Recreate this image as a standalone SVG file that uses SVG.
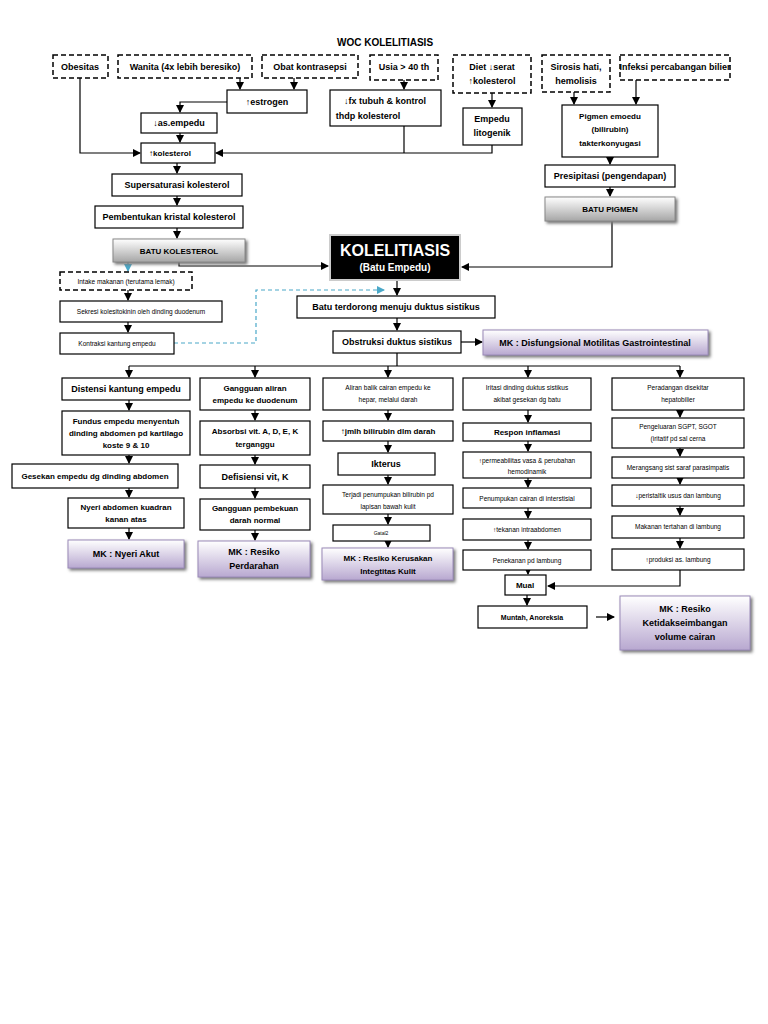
<svg xmlns="http://www.w3.org/2000/svg" width="768" height="1024" viewBox="0 0 768 1024">
<defs>
<marker id="ah" markerWidth="8" markerHeight="8" refX="7" refY="4" orient="auto" markerUnits="userSpaceOnUse"><path d="M0,0 L8,4 L0,8 z" fill="#000"/></marker>
<marker id="ab" markerWidth="8" markerHeight="8" refX="7" refY="4" orient="auto" markerUnits="userSpaceOnUse"><path d="M0,0 L8,4 L0,8 z" fill="#4aa8c8"/></marker>
<linearGradient id="gr" x1="0" y1="0" x2="0" y2="1"><stop offset="0" stop-color="#ffffff"/><stop offset="1" stop-color="#a6a6a6"/></linearGradient>
<linearGradient id="pu" x1="0" y1="0" x2="0" y2="1"><stop offset="0" stop-color="#ffffff"/><stop offset="1" stop-color="#b8a8d0"/></linearGradient>
<filter id="sh" x="-10%" y="-10%" width="130%" height="140%"><feDropShadow dx="2" dy="2" stdDeviation="1.5" flood-color="#777"/></filter>
</defs>
<style>
text{font-family:"Liberation Sans",Arial,sans-serif;font-weight:bold;fill:#000;text-anchor:middle}
.b{fill:#fff;stroke:#000;stroke-width:1.2}
.d{fill:#fff;stroke:#000;stroke-width:1.5;stroke-dasharray:5,3}
.g{fill:url(#gr);stroke:#888;stroke-width:1;filter:url(#sh)}
.p{fill:url(#pu);stroke:#9a8ab8;stroke-width:1;filter:url(#sh)}
.s{font-size:8px}
.m{font-size:9px}
.l{font-size:10px}
.c line,.c polyline{stroke:#000;stroke-width:1.2;fill:none;marker-end:url(#ah)}
.c .n{marker-end:none}
.c .bl{stroke:#4aa8c8;stroke-dasharray:4,3;marker-end:url(#ab)}
</style>
<rect width="768" height="1024" fill="#fff"/>
<text x="385" y="46" class="l">WOC KOLELITIASIS</text>

<g class="c">
<line x1="240" y1="78" x2="240" y2="89"/>
<line x1="294" y1="78" x2="294" y2="89"/>
<line x1="404" y1="80" x2="404" y2="89"/>
<line x1="492" y1="93" x2="492" y2="107"/>
<line x1="574" y1="92" x2="574" y2="104"/>
<line x1="636" y1="80" x2="636" y2="104"/>
<polyline points="227,102 180,102 180,112"/>
<line x1="180" y1="133" x2="180" y2="142"/>
<polyline points="80,78 80,153 140,153"/>
<polyline class="n" points="404,126 404,153"/>
<polyline points="492,145 492,153 216,153"/>
<line x1="177" y1="163" x2="177" y2="173"/>
<line x1="177" y1="196" x2="177" y2="205"/>
<line x1="177" y1="228" x2="177" y2="238"/>
<line x1="610" y1="157" x2="610" y2="164"/>
<line x1="610" y1="187" x2="610" y2="196"/>
<polyline points="179,262 179,266 328,266"/>
<polyline points="612,221 612,267 462,267"/>
<line class="bl" x1="128" y1="262" x2="128" y2="271"/>
<line x1="128" y1="290" x2="128" y2="300"/>
<line x1="128" y1="322" x2="128" y2="332"/>
<polyline class="bl" points="174,343 256,343 256,290 384,290"/>
<line x1="397" y1="280" x2="397" y2="295"/>
<line x1="397" y1="318" x2="397" y2="330"/>
<line x1="461" y1="342" x2="482" y2="342"/>
<polyline class="n" points="397,353 397,366"/>
<polyline class="n" points="129,366 680,366"/>
<line x1="129" y1="366" x2="129" y2="377"/>
<line x1="255" y1="366" x2="255" y2="377"/>
<line x1="388" y1="366" x2="388" y2="377"/>
<line x1="528" y1="366" x2="528" y2="377"/>
<line x1="680" y1="366" x2="680" y2="377"/>
<line x1="129" y1="400" x2="129" y2="410"/>
<line x1="129" y1="455" x2="129" y2="463"/>
<line x1="129" y1="488" x2="129" y2="497"/>
<line x1="129" y1="528" x2="129" y2="539"/>
<line x1="255" y1="410" x2="255" y2="420"/>
<line x1="255" y1="455" x2="255" y2="464"/>
<line x1="255" y1="488" x2="255" y2="498"/>
<line x1="255" y1="530" x2="255" y2="540"/>
<line x1="388" y1="410" x2="388" y2="420"/>
<line x1="388" y1="441" x2="388" y2="452"/>
<line x1="388" y1="475" x2="388" y2="484"/>
<line x1="388" y1="514" x2="388" y2="524"/>
<line x1="388" y1="541" x2="388" y2="547"/>
<line x1="528" y1="410" x2="528" y2="422"/>
<line x1="528" y1="441" x2="528" y2="451"/>
<line x1="528" y1="478" x2="528" y2="487"/>
<line x1="528" y1="508" x2="528" y2="518"/>
<line x1="528" y1="540" x2="528" y2="549"/>
<line x1="528" y1="570" x2="528" y2="574"/>
<line x1="527" y1="595" x2="527" y2="605"/>
<line x1="680" y1="410" x2="680" y2="417"/>
<line x1="680" y1="448" x2="680" y2="456"/>
<line x1="680" y1="478" x2="680" y2="484"/>
<line x1="680" y1="506" x2="680" y2="515"/>
<line x1="680" y1="538" x2="680" y2="548"/>
<polyline points="680,570 680,586 548,586"/>
<line x1="596" y1="617" x2="614" y2="617"/>
</g>

<g id="obesitas"><rect class="d" x="53" y="55" width="55" height="23"/><text x="80" y="70" class="m">Obesitas</text></g>
<g id="wanita"><rect class="d" x="118" y="55" width="134" height="23"/><text x="185" y="70" class="m">Wanita (4x lebih beresiko)</text></g>
<g id="obat"><rect class="d" x="262" y="55" width="96" height="23"/><text x="310" y="70" class="m">Obat kontrasepsi</text></g>
<g id="usia"><rect class="d" x="370" y="55" width="68" height="25"/><text x="404" y="70" class="m">Usia &gt; 40 th</text></g>
<g id="diet"><rect class="d" x="453" y="55" width="78" height="38"/><text x="492" y="70" class="m">Diet ↓serat</text><text x="492" y="84" class="m">↑kolesterol</text></g>
<g id="sirosis"><rect class="d" x="542" y="55" width="68" height="37"/><text x="576" y="70" class="m">Sirosis hati,</text><text x="576" y="84" class="m">hemolisis</text></g>
<g id="infeksi"><rect class="d" x="620" y="55" width="110" height="25"/><text x="675" y="70" class="m">Infeksi percabangan bilier</text></g>
<g id="estrogen"><rect class="b" x="227" y="90" width="80" height="23"/><text x="267" y="105" class="m">↑estrogen</text></g>
<g id="fx"><rect class="b" x="330" y="90" width="111" height="36"/><text x="385" y="104" class="m">↓fx tubuh &amp; kontrol</text><text x="368" y="119" class="m">thdp kolesterol</text></g>
<g id="litogenik"><rect class="b" x="463" y="108" width="59" height="37"/><text x="492" y="122" class="m">Empedu</text><text x="492" y="136" class="m">litogenik</text></g>
<g id="pigmen"><rect class="b" x="562" y="105" width="96" height="52"/><text x="610" y="119" class="s">Pigmen emoedu</text><text x="610" y="132" class="s">(bilirubin)</text><text x="610" y="146" class="s">takterkonyugasi</text></g>
<g id="asempedu"><rect class="b" x="141" y="113" width="76" height="20"/><text x="179" y="126" class="m">↓as.empedu</text></g>
<g id="kolesterol"><rect class="b" x="141" y="143" width="74" height="20"/><text x="170" y="156" class="s">↑kolesterol</text></g>
<g id="supersaturasi"><rect class="b" x="112" y="174" width="130" height="22"/><text x="177" y="188" class="m">Supersaturasi kolesterol</text></g>
<g id="pembentukan"><rect class="b" x="95" y="206" width="148" height="22"/><text x="169" y="220" class="m">Pembentukan kristal kolesterol</text></g>
<g id="batukolesterol"><rect class="g" x="113" y="239" width="132" height="23"/><text x="179" y="254" class="s">BATU KOLESTEROL</text></g>
<g id="presipitasi"><rect class="b" x="545" y="165" width="130" height="22"/><text x="610" y="179" class="m">Presipitasi (pengendapan)</text></g>
<g id="batupigmen"><rect class="g" x="545" y="197" width="130" height="24"/><text x="610" y="212" class="s">BATU PIGMEN</text></g>
<g id="kolelitiasis"><rect x="330" y="235" width="130" height="45" fill="#000" stroke="#ccc" stroke-width="2"/><text x="395" y="256" style="font-size:16px;fill:#fff">KOLELITIASIS</text><text x="395" y="271" class="l" style="fill:#fff">(Batu Empedu)</text></g>
<g id="intake"><rect class="d" x="60" y="272" width="132" height="18"/><text x="126" y="284" style="font-size:6.5px;font-weight:normal">Intake makanan (terutama lemak)</text></g>
<g id="sekresi"><rect class="b" x="60" y="301" width="162" height="21"/><text x="141" y="314" style="font-size:6.5px;font-weight:normal">Sekresi kolesitokinin oleh dinding duodenum</text></g>
<g id="kontraksi"><rect class="b" x="60" y="333" width="114" height="21"/><text x="117" y="346" style="font-size:6.5px;font-weight:normal">Kontraksi kantung empedu</text></g>
<g id="batuterdorong"><rect class="b" x="297" y="296" width="198" height="22"/><text x="396" y="310" class="m">Batu terdorong menuju duktus sistikus</text></g>
<g id="obstruksi"><rect class="b" x="333" y="331" width="128" height="22"/><text x="397" y="345" class="m">Obstruksi duktus sistikus</text></g>
<g id="mkdisfungsi"><rect class="p" x="483" y="330" width="225" height="25"/><text x="595" y="346" class="m">MK : Disfungsional Motilitas Gastrointestinal</text></g>

<g id="distensi"><rect class="b" x="62" y="378" width="128" height="22"/><text x="126" y="392" class="m">Distensi kantung empedu</text></g>
<g id="fundus"><rect class="b" x="62" y="411" width="128" height="44"/><text x="126" y="424" class="s">Fundus empedu menyentuh</text><text x="126" y="436" class="s">dinding abdomen pd kartilago</text><text x="126" y="448" class="s">koste 9 &amp; 10</text></g>
<g id="gesekan"><rect class="b" x="12" y="464" width="166" height="24"/><text x="95" y="479" class="s">Gesekan empedu dg  dinding abdomen</text></g>
<g id="nyeri"><rect class="b" x="68" y="498" width="116" height="30"/><text x="126" y="510" class="s">Nyeri abdomen kuadran</text><text x="126" y="522" class="s">kanan atas</text></g>
<g id="mknyeri"><rect class="p" x="68" y="540" width="116" height="28"/><text x="126" y="557" class="m">MK : Nyeri Akut</text></g>

<g id="gangguanaliran"><rect class="b" x="200" y="378" width="110" height="32"/><text x="255" y="391" class="s">Gangguan aliran</text><text x="255" y="403" class="s">empedu ke duodenum</text></g>
<g id="absorbsi"><rect class="b" x="200" y="421" width="110" height="34"/><text x="255" y="434" class="s">Absorbsi vit. A, D, E, K</text><text x="255" y="447" class="s">terganggu</text></g>
<g id="defisiensi"><rect class="b" x="200" y="465" width="110" height="23"/><text x="255" y="480" class="m">Defisiensi vit, K</text></g>
<g id="pembekuan"><rect class="b" x="200" y="499" width="110" height="31"/><text x="255" y="511" class="s">Gangguan pembekuan</text><text x="255" y="523" class="s">darah normal</text></g>
<g id="mkperdarahan"><rect class="p" x="198" y="541" width="112" height="36"/><text x="254" y="555" class="m">MK : Resiko</text><text x="254" y="569" class="m">Perdarahan</text></g>

<g id="aliranbalik"><rect class="b" x="323" y="378" width="130" height="32"/><text x="388" y="390" style="font-size:6.5px;font-weight:normal">Aliran balik cairan empedu ke</text><text x="388" y="402" style="font-size:6.5px;font-weight:normal">hepar, melalui darah</text></g>
<g id="bilirubin"><rect class="b" x="323" y="421" width="130" height="20"/><text x="388" y="434" class="s">↑jmlh bilirubin dlm darah</text></g>
<g id="ikterus"><rect class="b" x="338" y="453" width="97" height="22"/><text x="386" y="467" class="m">Ikterus</text></g>
<g id="terjadi"><rect class="b" x="323" y="485" width="130" height="29"/><text x="388" y="497" style="font-size:6.5px;font-weight:normal">Terjadi penumpukan bilirubin pd</text><text x="388" y="509" style="font-size:6.5px;font-weight:normal">lapisan bawah kulit</text></g>
<g id="gatal"><rect class="b" x="333" y="525" width="97" height="16"/><text x="381" y="535" style="font-size:5px;font-weight:normal">Gatal2</text></g>
<g id="mkkulit"><rect class="p" x="322" y="548" width="131" height="32"/><text x="388" y="561" class="s">MK : Resiko Kerusakan</text><text x="388" y="574" class="s">Integtitas Kulit</text></g>

<g id="iritasi"><rect class="b" x="463" y="378" width="128" height="32"/><text x="527" y="390" style="font-size:6.5px;font-weight:normal">Iritasi dinding duktus sistikus</text><text x="527" y="402" style="font-size:6.5px;font-weight:normal">akibat gesekan dg batu</text></g>
<g id="respon"><rect class="b" x="463" y="423" width="128" height="18"/><text x="527" y="435" class="s">Respon inflamasi</text></g>
<g id="permeabilitas"><rect class="b" x="463" y="452" width="128" height="26"/><text x="527" y="463" style="font-size:6.5px;font-weight:normal">↑permeabilitas vasa &amp; perubahan</text><text x="527" y="474" style="font-size:6.5px;font-weight:normal">hemodinamik</text></g>
<g id="penumpukan"><rect class="b" x="463" y="488" width="128" height="20"/><text x="527" y="501" style="font-size:6.5px;font-weight:normal">Penumpukan cairan di interstisial</text></g>
<g id="tekanan"><rect class="b" x="463" y="519" width="128" height="21"/><text x="527" y="532" style="font-size:6.5px;font-weight:normal">↑tekanan intraabdomen</text></g>
<g id="penekanan"><rect class="b" x="463" y="550" width="128" height="20"/><text x="527" y="563" style="font-size:6.5px;font-weight:normal">Penekanan pd lambung</text></g>
<g id="mual"><rect class="b" x="505" y="575" width="41" height="20"/><text x="525" y="588" class="s">Mual</text></g>
<g id="muntah"><rect class="b" x="478" y="606" width="109" height="22"/><text x="532" y="620" style="font-size:7px">Muntah, Anoreksia</text></g>
<g id="mkcairan"><rect class="p" x="620" y="596" width="130" height="54"/><text x="685" y="612" class="m">MK : Resiko</text><text x="685" y="626" class="m">Ketidakseimbangan</text><text x="685" y="640" class="m">volume cairan</text></g>

<g id="peradangan"><rect class="b" x="612" y="378" width="132" height="32"/><text x="678" y="390" style="font-size:6.5px;font-weight:normal">Peradangan disekitar</text><text x="678" y="402" style="font-size:6.5px;font-weight:normal">hepatobilier</text></g>
<g id="pengeluaran"><rect class="b" x="612" y="418" width="132" height="30"/><text x="678" y="429" style="font-size:6.5px;font-weight:normal">Pengeluaran SGPT, SGOT</text><text x="678" y="441" style="font-size:6.5px;font-weight:normal">(iritatif pd sal cerna</text></g>
<g id="merangsang"><rect class="b" x="612" y="457" width="132" height="21"/><text x="678" y="470" style="font-size:6.5px;font-weight:normal">Merangsang sist saraf parasimpatis</text></g>
<g id="peristaltik"><rect class="b" x="612" y="485" width="132" height="21"/><text x="678" y="498" style="font-size:6.5px;font-weight:normal">↓peristaltik usus dan lambung</text></g>
<g id="makanan"><rect class="b" x="612" y="516" width="132" height="22"/><text x="678" y="529" style="font-size:6.5px;font-weight:normal">Makanan tertahan di lambung</text></g>
<g id="produksi"><rect class="b" x="612" y="549" width="132" height="21"/><text x="678" y="562" style="font-size:6.5px;font-weight:normal">↑produksi as. lambung</text></g>
</svg>
